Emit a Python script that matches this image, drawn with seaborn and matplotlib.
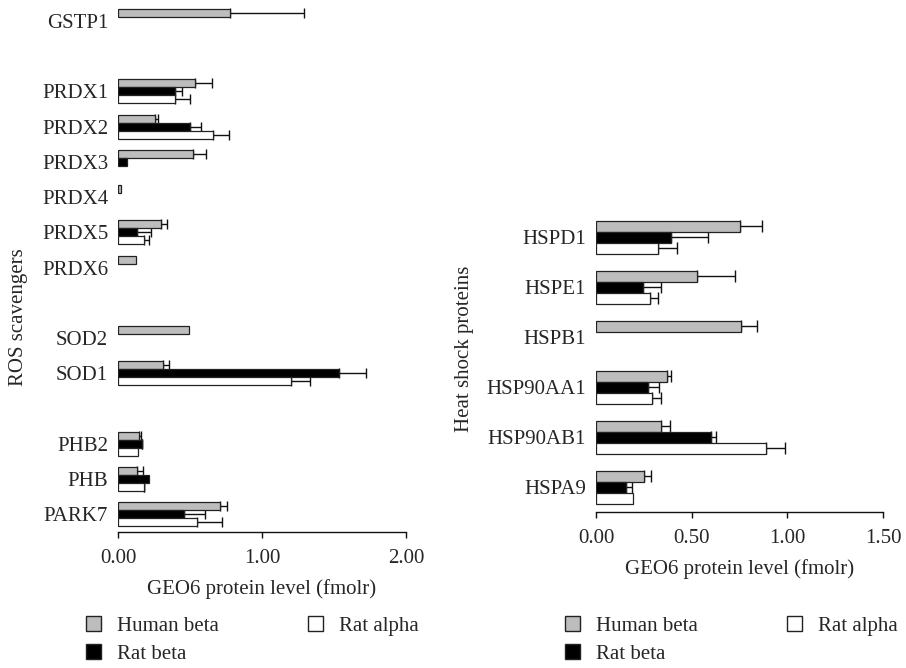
import numpy as np
import pandas as pd
import matplotlib
matplotlib.use("Agg")
import matplotlib.pyplot as plt
import seaborn as sns
from matplotlib.patches import Patch

# ---------------- data ----------------
series = ["Human beta", "Rat beta", "Rat alpha"]
colors = ["#bdbdbd", "#000000", "#ffffff"]

ros_cats = ["GSTP1", " ", "PRDX1", "PRDX2", "PRDX3", "PRDX4", "PRDX5", "PRDX6",
            "  ", "SOD2", "SOD1", "   ", "PHB2", "PHB", "PARK7"]
ros_human = [0.775, np.nan, 0.537, 0.254, 0.518, 0.023, 0.301, 0.122,
             np.nan, 0.493, 0.312, np.nan, 0.143, 0.134, 0.706]
ros_human_err = [0.517, np.nan, 0.116, 0.026, 0.090, np.nan, 0.041, np.nan,
                 np.nan, np.nan, 0.040, np.nan, 0.017, 0.037, 0.051]
ros_ratb = [np.nan, np.nan, 0.398, 0.502, 0.060, np.nan, 0.134, np.nan,
            np.nan, np.nan, 1.532, np.nan, 0.164, 0.213, 0.460]
ros_ratb_err = [np.nan, np.nan, 0.046, 0.076, np.nan, np.nan, 0.095, np.nan,
                np.nan, np.nan, 0.190, np.nan, 0.006, np.nan, 0.144]
ros_rata = [np.nan, np.nan, 0.398, 0.660, np.nan, np.nan, 0.178, np.nan,
            np.nan, np.nan, 1.201, np.nan, 0.141, 0.178, 0.549]
ros_rata_err = [np.nan, np.nan, 0.099, 0.108, np.nan, np.nan, 0.035, np.nan,
                np.nan, np.nan, 0.134, np.nan, np.nan, 0.005, 0.175]

hsp_cats = ["HSPD1", "HSPE1", "HSPB1", "HSP90AA1", "HSP90AB1", "HSPA9"]
hsp_human = [0.753, 0.530, 0.760, 0.373, 0.340, 0.253]
hsp_human_err = [0.117, 0.196, 0.080, 0.019, 0.047, 0.037]
hsp_ratb = [0.392, 0.247, np.nan, 0.273, 0.599, 0.156]
hsp_ratb_err = [0.195, 0.093, np.nan, 0.059, 0.026, 0.032]
hsp_rata = [0.325, 0.283, np.nan, 0.295, 0.887, 0.196]
hsp_rata_err = [0.100, 0.042, np.nan, 0.045, 0.101, np.nan]

x_label = "GEO6 protein level (fmolr)"
ros_ylabel = "ROS scavengers"
hsp_ylabel = "Heat shock proteins"
ros_ticks = [0.0, 1.0, 2.0]
hsp_ticks = [0.0, 0.5, 1.0, 1.5]

# ---------------- style ----------------
FS = 15
sns.set_theme(style="white")
plt.rcParams["font.family"] = ["Liberation Serif", "DejaVu Serif"]
plt.rcParams["font.size"] = FS

fig = plt.figure(figsize=(9.06, 6.68), dpi=100)
ax1 = fig.add_axes([0.1302, 0.2042, 0.3179, 0.7907])
ax2 = fig.add_axes([0.6578, 0.2335, 0.3168, 0.4491])

def make_df(cats, vals):
    rows = []
    for s, v in zip(series, vals):
        for c, x in zip(cats, v):
            rows.append({"cat": c, "series": s, "value": x})
    return pd.DataFrame(rows)

def draw(ax, cats, vals, errs, width, xmax, ticks, capsize):
    df = make_df(cats, vals)
    sns.barplot(data=df, y="cat", x="value", hue="series", order=cats,
                hue_order=series, palette=colors, orient="h", width=width,
                edgecolor="#222222", linewidth=0.9, errorbar=None,
                legend=False, ax=ax)
    n = len(series)
    bw = width / n
    for j, (v, e) in enumerate(zip(vals, errs)):
        v = np.asarray(v, float)
        e = np.asarray(e, float)
        ypos = np.arange(len(cats)) + (j - (n - 1) / 2) * bw
        m = ~np.isnan(e) & ~np.isnan(v)
        ax.errorbar(v[m], ypos[m], xerr=[np.zeros(m.sum()), e[m]],
                    fmt="none", ecolor="#111111", elinewidth=1.0,
                    capsize=capsize, capthick=1.0, zorder=0.5)
    ax.set_ylim(len(cats) - 0.5, -0.5)
    ax.set_xlim(0, xmax)
    ax.set_xticks(ticks)
    ax.set_xticklabels([f"{t:.2f}" for t in ticks])
    ax.set_ylabel("")
    ax.set_xlabel(x_label, fontsize=FS, labelpad=8)
    for s in ["left", "top", "right"]:
        ax.spines[s].set_visible(False)
    ax.spines["bottom"].set_color("#111111")
    ax.spines["bottom"].set_linewidth(1.0)
    ax.tick_params(axis="x", bottom=True, length=4.5, width=1.0,
                   color="#111111", labelsize=FS, pad=8)
    ax.tick_params(axis="y", left=False, length=0, labelsize=FS, pad=7)
    ax.set_facecolor("none")

draw(ax1, ros_cats, [ros_human, ros_ratb, ros_rata],
     [ros_human_err, ros_ratb_err, ros_rata_err], 0.68, 2.0, ros_ticks, 3.6)
draw(ax2, hsp_cats, [hsp_human, hsp_ratb, hsp_rata],
     [hsp_human_err, hsp_ratb_err, hsp_rata_err], 0.66, 1.5, hsp_ticks, 4.0)

fig.text(0.020, 0.525, ros_ylabel, rotation=90, ha="center", va="center", fontsize=FS)
fig.text(0.513, 0.478, hsp_ylabel, rotation=90, ha="center", va="center", fontsize=FS)

handles = [Patch(facecolor=c, edgecolor="#222222", linewidth=1.0) for c in colors]
for xa in [0.095, 0.624]:
    fig.legend(handles, series, loc="upper left", bbox_to_anchor=(xa, 0.078),
               ncol=2, frameon=False, fontsize=FS, handlelength=0.72,
               handleheight=0.72, handletextpad=0.75, columnspacing=4.3,
               labelspacing=0.42, borderpad=0, borderaxespad=0)

fig.savefig("out.png", dpi=100)
